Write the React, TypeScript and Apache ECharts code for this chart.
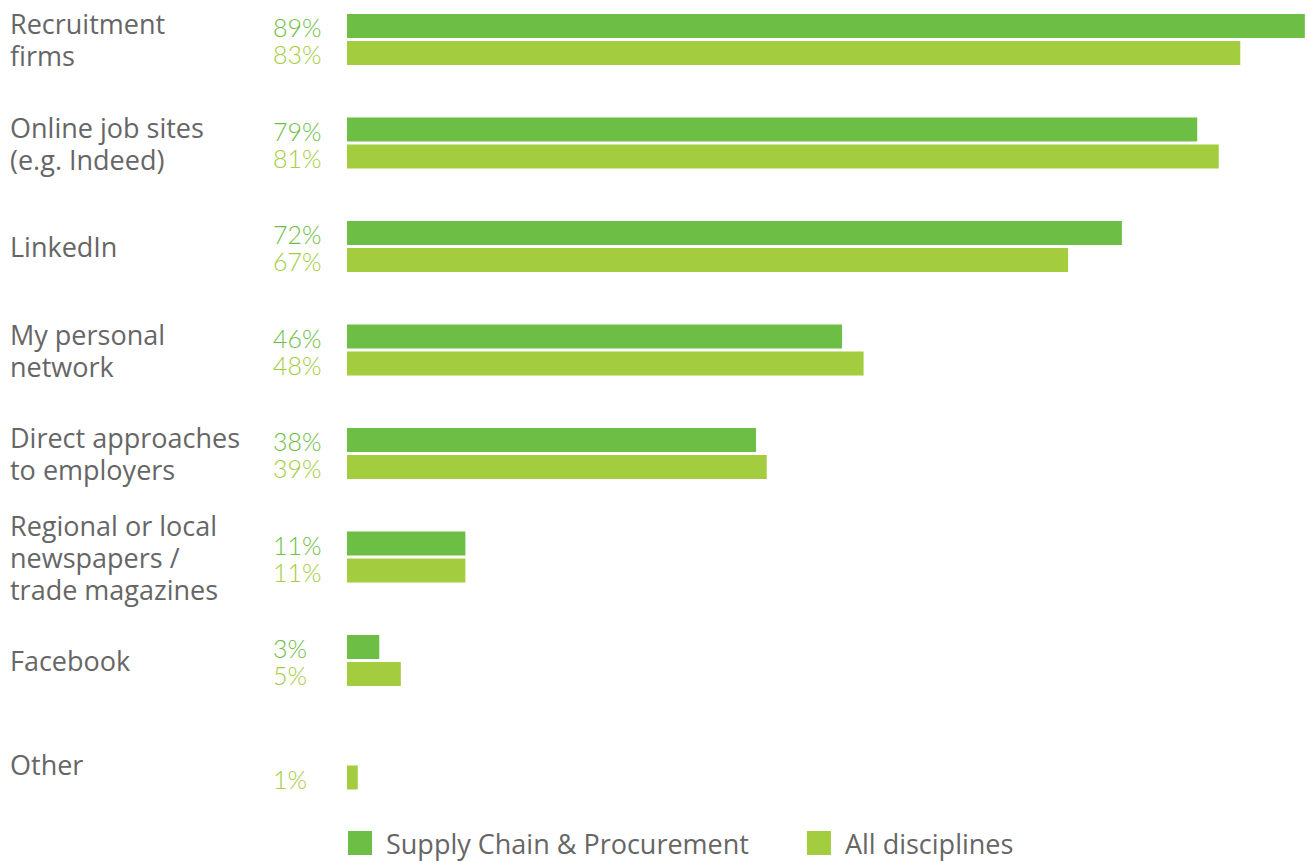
import React, { useEffect, useRef } from "react";
import * as echarts from "echarts";

const categories = [
  "Recruitment\nfirms",
  "Online job sites\n(e.g. Indeed)",
  "LinkedIn",
  "My personal\nnetwork",
  "Direct approaches\nto employers",
  "Regional or local\nnewspapers /\ntrade magazines",
  "Facebook",
  "Other",
];
const supplyChain: (number | null)[] = [89, 79, 72, 46, 38, 11, 3, null];
const allDisciplines: number[] = [83, 81, 67, 48, 39, 11, 5, 1];
const seriesNames = ["Supply Chain & Procurement", "All disciplines"];

const DARK = "#6dbe45";
const LIGHT = "#a3cc3e";
const TEXT = "#666666";
const FONT = "'Open Sans', Lato, sans-serif";
const NUMFONT = "Lato, 'Open Sans', sans-serif";

export default function App() {
  const ref = useRef<HTMLDivElement>(null);
  useEffect(() => {
    if (!ref.current) return;
    const chart = echarts.init(ref.current, null, { renderer: "svg" });
    const label = (color: string) => ({
      show: true,
      position: "insideLeft" as const,
      distance: 0,
      offset: [-74, 1],
      formatter: "{c}%",
      color,
      fontFamily: NUMFONT,
      fontWeight: 300,
      fontSize: 25,
      lineHeight: 25,
    });
    chart.setOption({
      animation: false,
      textStyle: { fontFamily: FONT },
      grid: { left: 347, right: 0, top: 39.5, height: 724.5, containLabel: false },
      xAxis: {
        type: "value",
        min: 0,
        max: 89.2,
        show: false,
      },
      yAxis: {
        type: "category",
        data: categories,
        inverse: true,
        boundaryGap: false,
        axisLine: { show: false },
        axisTick: { show: false },
        splitLine: { show: false },
        axisLabel: {
          align: "left",
          margin: 337,
          color: TEXT,
          fontSize: 27,
          lineHeight: 32,
          fontFamily: FONT,
          fontWeight: 400,
        },
      },
      legend: {
        left: 348,
        top: 829,
        padding: 0,
        itemWidth: 24,
        itemHeight: 24,
        itemGap: 58,
        icon: "rect",
        data: seriesNames,
        textStyle: {
          color: TEXT,
          fontSize: 27,
          lineHeight: 28,
          fontFamily: FONT,
          padding: [0, 0, 0, 9],
        },
      },
      series: [
        {
          name: seriesNames[0],
          type: "bar",
          data: supplyChain,
          barWidth: 24,
          barGap: "12.5%",
          itemStyle: { color: DARK },
          label: label(DARK),
        },
        {
          name: seriesNames[1],
          type: "bar",
          data: allDisciplines,
          barWidth: 24,
          itemStyle: { color: LIGHT },
          label: label(LIGHT),
        },
      ],
    });
    return () => chart.dispose();
  }, []);
  return (
    <div
      ref={ref}
      style={{ position: "absolute", left: 0, top: 0, width: 1307, height: 861 }}
    />
  );
}
